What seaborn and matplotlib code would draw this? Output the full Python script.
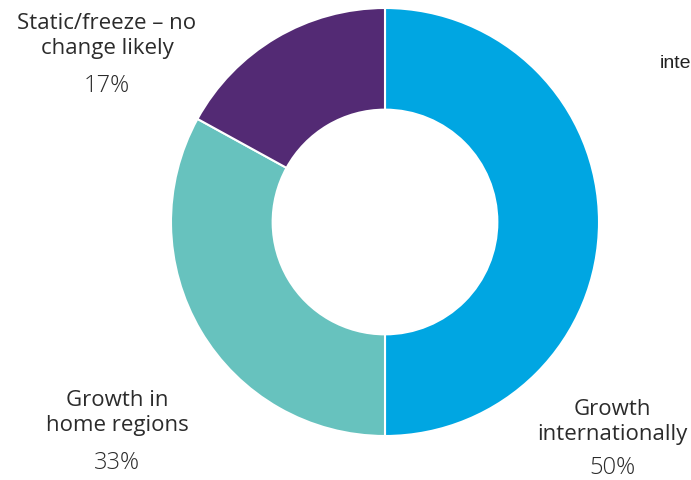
import matplotlib
matplotlib.use("Agg")
import matplotlib.pyplot as plt
import seaborn as sns

categories = ["Growth internationally", "Growth in home regions", "Static/freeze – no change likely"]
label_lines = ["Growth\ninternationally", "Growth in\nhome regions", "Static/freeze – no\nchange likely"]
values = [50, 33, 17]
colors = ["#00A6E2", "#67C2BE", "#532A74"]

sns.set_theme(style="white")
plt.rcParams["font.family"] = ["Open Sans", "DejaVu Sans"]

W, H = 691, 480
fig = plt.figure(figsize=(W / 100, H / 100), dpi=100)
fig.patch.set_facecolor("white")

# donut placement in pixels
cx, cy, r = 385, 222, 214
ax = fig.add_axes([(cx - r) / W, 1 - (cy + r) / H, 2 * r / W, 2 * r / H])
ax.pie(values, colors=colors, startangle=90, counterclock=False, radius=1,
       wedgeprops=dict(width=0.475, edgecolor="white", linewidth=1.5))
ax.set_xlim(-1, 1)
ax.set_ylim(-1, 1)
ax.set_aspect("equal")
ax.axis("off")

# label anchors (pixel centres of the two-line name block and percentage)
label_pos = [(612, 422, 468), (117, 413, 463), (107, 36, 86)]
text_color = "#2b2b2b"
for name, val, (x, ny, py) in zip(label_lines, values, label_pos):
    fig.text(x / W, 1 - ny / H, name, ha="center", va="center", fontsize=16,
             color=text_color, linespacing=1.28)
    fig.text(x / W, 1 - py / H, f"{val}%", ha="center", va="center", fontsize=17,
             color=text_color, fontweight=300)

# stray label running off the right edge
fig.text(660 / W, 1 - 64 / H, "internationally", ha="left", va="center",
         fontsize=14, color="#222222", family=["Liberation Sans", "DejaVu Sans"])

fig.savefig("out.png", dpi=100)
